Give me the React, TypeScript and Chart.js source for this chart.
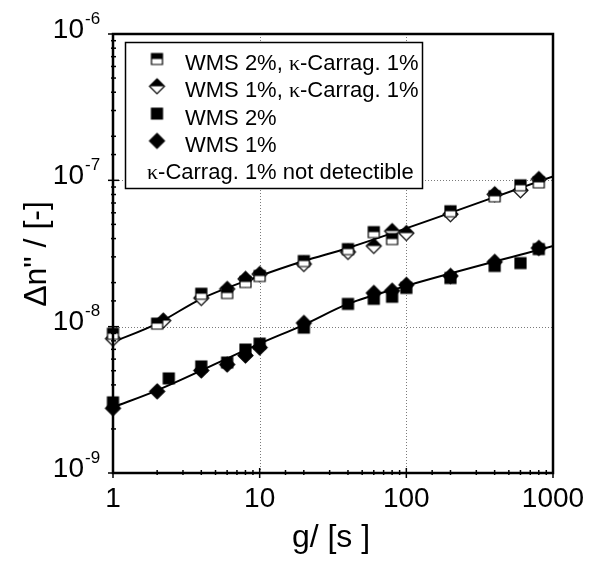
import React, { useEffect, useRef } from 'react';
import { Chart, registerables } from 'chart.js';

Chart.register(...registerables);

// ---- data ----
const X_WMS2_CARR = [1, 2, 4, 6, 8, 10, 20, 40, 60, 80, 200, 400, 600, 800];
const Y_WMS2_CARR = [8.95e-9, 1.05e-8, 1.68e-8, 1.70e-8, 2.02e-8, 2.22e-8, 2.81e-8, 3.39e-8, 4.43e-8, 3.97e-8, 6.15e-8, 7.78e-8, 9.25e-8, 9.69e-8];

const X_WMS1_CARR = [1, 2.2, 4, 6, 8, 10, 20, 40, 60, 80, 100, 200, 400, 600, 800];
const Y_WMS1_CARR = [8.28e-9, 1.10e-8, 1.57e-8, 1.81e-8, 2.12e-8, 2.29e-8, 2.68e-8, 3.24e-8, 3.56e-8, 4.50e-8, 4.36e-8, 5.87e-8, 8.03e-8, 8.55e-8, 1.02e-7];

const X_WMS2 = [1, 2.4, 4, 6, 8, 10, 20, 40, 60, 80, 100, 200, 400, 600, 800];
const Y_WMS2 = [3.04e-9, 4.43e-9, 5.35e-9, 5.69e-9, 6.98e-9, 7.66e-9, 9.85e-9, 1.43e-8, 1.55e-8, 1.60e-8, 1.84e-8, 2.15e-8, 2.60e-8, 2.72e-8, 3.39e-8];

const X_WMS1 = [1, 2, 4, 6, 8, 10, 20, 60, 80, 100, 200, 400, 800];
const Y_WMS1 = [2.77e-9, 3.61e-9, 5.02e-9, 5.51e-9, 6.35e-9, 7.20e-9, 1.06e-8, 1.70e-8, 1.76e-8, 1.93e-8, 2.22e-8, 2.77e-8, 3.45e-8];

const FIT_UPPER_X = [1, 2, 4, 10, 20, 40, 1000];
const FIT_UPPER_Y = [7.85e-9, 1.05e-8, 1.55e-8, 2.22e-8, 2.81e-8, 3.45e-8, 1.065e-7];

const FIT_LOWER_X = [1, 2, 10, 20, 40, 100, 1000];
const FIT_LOWER_Y = [2.81e-9, 3.67e-9, 7.66e-9, 1.03e-8, 1.43e-8, 1.90e-8, 3.56e-8];

const SERIES_LABELS = ['WMS 2%, κ-Carrag. 1%', 'WMS 1%, κ-Carrag. 1%', 'WMS 2%', 'WMS 1%'];
const LEGEND_NOTE = 'κ-Carrag. 1% not detectible';

const X_TICK_VALUES = [1, 10, 100, 1000];
const X_TICK_LABELS = ['1', '10', '100', '1000'];
const Y_TICK_EXPONENTS = [-9, -8, -7, -6];
const X_GRID = [10, 100];
const Y_GRID = [1e-8, 1e-7];

const X_TITLE = 'g/ [s ]';
const Y_TITLE = 'Δn" / [-]';

const SANS = "Arial, 'Liberation Sans', Helvetica, sans-serif";
const SERIF = "'Times New Roman', 'Liberation Serif', serif";

function pts(xs: number[], ys: number[]) {
  return xs.map((x, i) => ({ x, y: ys[i] }));
}

function makeMarker(shape: 'square' | 'diamond', fill: 'full' | 'half', size: number) {
  const pad = 2;
  const dim = Math.ceil(size + pad * 2);
  const c = document.createElement('canvas');
  c.width = dim;
  c.height = dim;
  const g = c.getContext('2d')!;
  const m = dim / 2;
  const h = size / 2;
  const path = () => {
    g.beginPath();
    if (shape === 'square') {
      g.rect(m - h, m - h, size, size);
    } else {
      g.moveTo(m, m - h);
      g.lineTo(m + h, m);
      g.lineTo(m, m + h);
      g.lineTo(m - h, m);
      g.closePath();
    }
  };
  path();
  g.fillStyle = fill === 'full' ? '#000' : '#fff';
  g.fill();
  if (fill === 'half') {
    g.save();
    path();
    g.clip();
    g.fillStyle = '#000';
    g.fillRect(0, 0, dim, m);
    g.restore();
  }
  g.lineWidth = 1.2;
  g.strokeStyle = '#000';
  path();
  g.stroke();
  return c;
}

function drawRich(ctx: CanvasRenderingContext2D, text: string, x: number, y: number, size: number) {
  const parts = text.split('κ');
  let cx = x;
  parts.forEach((p, i) => {
    if (i > 0) {
      ctx.font = `${size}px ${SERIF}`;
      ctx.fillText('κ', cx, y);
      cx += ctx.measureText('κ').width;
    }
    ctx.font = `${size}px ${SANS}`;
    ctx.fillText(p, cx, y);
    cx += ctx.measureText(p).width;
  });
}

const isDecade = (v: number) => Math.abs(Math.log10(v) - Math.round(Math.log10(v))) < 1e-6;

const decorPlugin = {
  id: 'decor',
  beforeDatasetsDraw(chart: any) {
    const { ctx, chartArea: a, scales } = chart;
    const xs = scales.x, ys = scales.y;
    ctx.save();
    ctx.strokeStyle = '#7a7a7a';
    ctx.lineWidth = 1;
    ctx.setLineDash([1, 2]);
    for (const v of X_GRID) {
      const px = Math.round(xs.getPixelForValue(v)) + 0.5;
      ctx.beginPath();
      ctx.moveTo(px, a.top);
      ctx.lineTo(px, a.bottom);
      ctx.stroke();
    }
    for (const v of Y_GRID) {
      const py = Math.round(ys.getPixelForValue(v)) + 0.5;
      ctx.beginPath();
      ctx.moveTo(a.left, py);
      ctx.lineTo(a.right, py);
      ctx.stroke();
    }
    ctx.restore();
  },
  afterDraw(chart: any) {
    const { ctx, chartArea: a, scales } = chart;
    const xs = scales.x, ys = scales.y;
    ctx.save();
    ctx.setLineDash([]);
    ctx.strokeStyle = '#000';
    ctx.fillStyle = '#000';

    // ticks
    ctx.lineWidth = 1.5;
    for (const t of xs.ticks) {
      const px = xs.getPixelForValue(t.value);
      if (px < a.left - 1 || px > a.right + 1) continue;
      const major = isDecade(t.value);
      ctx.beginPath();
      ctx.moveTo(px, a.bottom - (major ? 5 : 3));
      ctx.lineTo(px, a.bottom + (major ? 5 : 2));
      ctx.stroke();
    }
    for (const t of ys.ticks) {
      const py = ys.getPixelForValue(t.value);
      if (py < a.top - 1 || py > a.bottom + 1) continue;
      const major = isDecade(t.value);
      ctx.beginPath();
      ctx.moveTo(a.left - (major ? 5 : 2), py);
      ctx.lineTo(a.left + (major ? 6 : 3), py);
      ctx.stroke();
    }

    // frame
    ctx.lineWidth = 2.5;
    ctx.strokeRect(a.left, a.top, a.right - a.left, a.bottom - a.top);

    // x tick labels
    ctx.font = `28px ${SANS}`;
    ctx.textAlign = 'center';
    ctx.textBaseline = 'alphabetic';
    X_TICK_VALUES.forEach((v, i) => {
      ctx.fillText(X_TICK_LABELS[i], xs.getPixelForValue(v), a.bottom + 34);
    });

    // y tick labels (10 with superscript exponent)
    Y_TICK_EXPONENTS.forEach((e) => {
      const py = ys.getPixelForValue(Math.pow(10, e));
      ctx.font = `28px ${SANS}`;
      ctx.textAlign = 'right';
      ctx.fillText('10', a.left - 29, py + 3.5);
      ctx.font = `17px ${SANS}`;
      ctx.textAlign = 'left';
      ctx.fillText(String(e), a.left - 28, py - 10.5);
    });

    // axis titles
    ctx.font = `32px ${SANS}`;
    ctx.textAlign = 'center';
    ctx.fillText(X_TITLE, 331, 547);
    ctx.save();
    ctx.translate(37, 254);
    ctx.rotate(-Math.PI / 2);
    ctx.textBaseline = 'middle';
    ctx.fillText(Y_TITLE, 0, 0);
    ctx.restore();

    // legend
    const L = { x: 125, y: 42, w: 297, h: 146 };
    ctx.fillStyle = '#fff';
    ctx.fillRect(L.x, L.y, L.w, L.h);
    ctx.lineWidth = 1.5;
    ctx.strokeStyle = '#000';
    ctx.strokeRect(L.x + 0.5, L.y + 0.5, L.w, L.h);
    ctx.fillStyle = '#000';
    ctx.textAlign = 'left';
    ctx.textBaseline = 'alphabetic';
    const rowStep = 27.3;
    const base0 = 70;
    const metas = chart.data.datasets.filter((d: any) => d.isSeries);
    metas.forEach((d: any, i: number) => {
      const base = base0 + i * rowStep;
      const img = d.pointStyle as HTMLCanvasElement;
      ctx.drawImage(img, 157 - img.width / 2, base - 11 - img.height / 2);
      drawRich(ctx, d.label, 185, base, 22);
    });
    drawRich(ctx, LEGEND_NOTE, 147, base0 + 4 * rowStep, 22);

    ctx.restore();
  },
};

export default function App() {
  const ref = useRef<HTMLCanvasElement | null>(null);

  useEffect(() => {
    document.body.style.margin = '0';
    const canvas = ref.current!;
    const halfSq = makeMarker('square', 'half', 11);
    const halfDi = makeMarker('diamond', 'half', 15);
    const fullSq = makeMarker('square', 'full', 11);
    const fullDi = makeMarker('diamond', 'full', 15);

    const series = (label: string, data: any[], style: HTMLCanvasElement, order: number) => ({
      label,
      data,
      isSeries: true,
      showLine: false,
      pointStyle: style,
      pointRadius: 7,
      pointHoverRadius: 7,
      clip: false as any,
      order,
    });
    const fit = (data: any[]) => ({
      label: '',
      data,
      showLine: true,
      borderColor: '#000',
      borderWidth: 2,
      pointRadius: 0,
      pointHoverRadius: 0,
      cubicInterpolationMode: 'monotone' as const,
      fill: false,
      order: 10,
    });

    const chart = new Chart(canvas, {
      type: 'scatter',
      data: {
        datasets: [
          series(SERIES_LABELS[0], pts(X_WMS2_CARR, Y_WMS2_CARR), halfSq, 2),
          series(SERIES_LABELS[1], pts(X_WMS1_CARR, Y_WMS1_CARR), halfDi, 3),
          series(SERIES_LABELS[2], pts(X_WMS2, Y_WMS2), fullSq, 1),
          series(SERIES_LABELS[3], pts(X_WMS1, Y_WMS1), fullDi, 0),
          fit(pts(FIT_UPPER_X, FIT_UPPER_Y)),
          fit(pts(FIT_LOWER_X, FIT_LOWER_Y)),
        ] as any,
      },
      options: {
        responsive: false,
        animation: false,
        devicePixelRatio: 1,
        layout: { padding: { top: 34, right: 41, left: 0, bottom: 0 } },
        plugins: {
          legend: { display: false },
          tooltip: { enabled: false },
        },
        events: [],
        scales: {
          x: {
            type: 'logarithmic',
            min: 1,
            max: 1000,
            grid: { display: false },
            border: { display: false },
            ticks: { display: false },
            afterFit: (s: any) => { s.height = 90; },
          },
          y: {
            type: 'logarithmic',
            min: 1e-9,
            max: 1e-6,
            grid: { display: false },
            border: { display: false },
            ticks: { display: false },
            afterFit: (s: any) => { s.width = 113; },
          },
        },
      } as any,
      plugins: [decorPlugin],
    });
    return () => chart.destroy();
  }, []);

  return <canvas ref={ref} width={594} height={563} style={{ display: 'block' }} />;
}
